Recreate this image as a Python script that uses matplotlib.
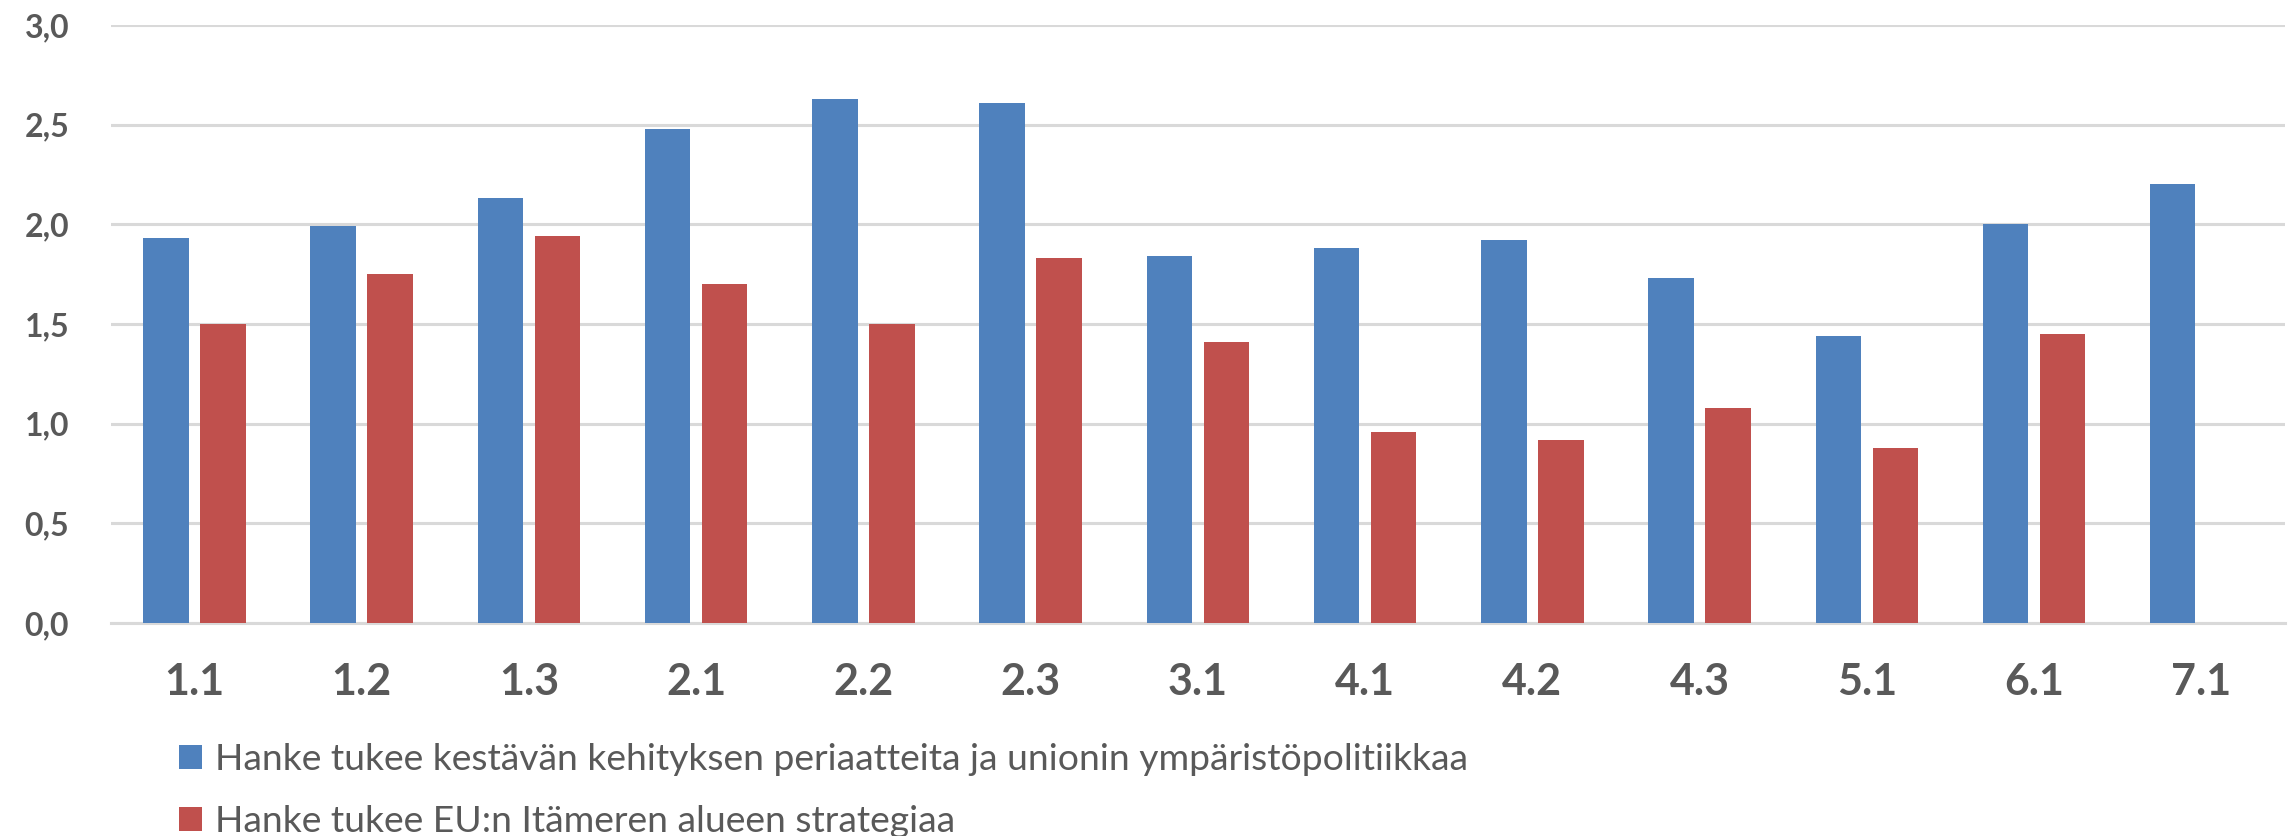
import numpy as np
import matplotlib.pyplot as plt

plt.rcParams['font.family'] = ['Lato', 'DejaVu Sans']

categories = ['1.1', '1.2', '1.3', '2.1', '2.2', '2.3', '3.1', '4.1', '4.2', '4.3', '5.1', '6.1', '7.1']
kestava = [1.93, 1.99, 2.13, 2.48, 2.63, 2.61, 1.84, 1.88, 1.92, 1.73, 1.44, 2.00, 2.20]
itameri = [1.50, 1.75, 1.94, 1.70, 1.50, 1.83, 1.41, 0.96, 0.92, 1.08, 0.88, 1.45, np.nan]
y_ticks = [0.0, 0.5, 1.0, 1.5, 2.0, 2.5, 3.0]

label_blue = 'Hanke tukee kestävän kehityksen periaatteita ja unionin ympäristöpolitiikkaa'
label_red = 'Hanke tukee EU:n Itämeren alueen strategiaa'

blue = '#4F81BD'
red = '#C0504D'
text_col = '#595959'
grid_col = '#D9D9D9'

fig = plt.figure(figsize=(22.93, 8.36), dpi=100)
ax = fig.add_axes([0.0483, 0.2548, 0.9482, 0.7153])

x = np.arange(len(categories))
w = 0.272
off = 0.171
b1 = ax.bar(x - off, kestava, w, color=blue, label=label_blue, zorder=3)
b2 = ax.bar(x + off, itameri, w, color=red, label=label_red, zorder=3)

ax.set_xlim(-0.5, len(categories) - 0.5)
ax.set_ylim(0, 3.0)
ax.set_yticks(y_ticks)
ax.set_yticklabels([f'{v:.1f}'.replace('.', ',') for v in y_ticks])
ax.set_xticks(x)
ax.set_xticklabels(categories)

ax.grid(axis='y', color=grid_col, linewidth=2.2, zorder=0)
for s in ['top', 'right', 'left']:
    ax.spines[s].set_visible(False)
ax.spines['bottom'].set_color(grid_col)
ax.spines['bottom'].set_linewidth(2.2)

ax.tick_params(axis='y', length=0, pad=30, labelsize=23, labelcolor=text_col)
ax.tick_params(axis='x', length=0, pad=28, labelsize=31, labelcolor=text_col)
for t in ax.get_xticklabels() + ax.get_yticklabels():
    t.set_fontweight('bold')

fig.legend(handles=[b1, b2], loc='upper left', bbox_to_anchor=(0.078, 0.111),
           frameon=False, fontsize=26.8, labelcolor=text_col,
           handlelength=0.63, handleheight=0.63, handletextpad=0.35,
           labelspacing=0.78, borderpad=0, borderaxespad=0)

fig.savefig('out.png', dpi=100)
